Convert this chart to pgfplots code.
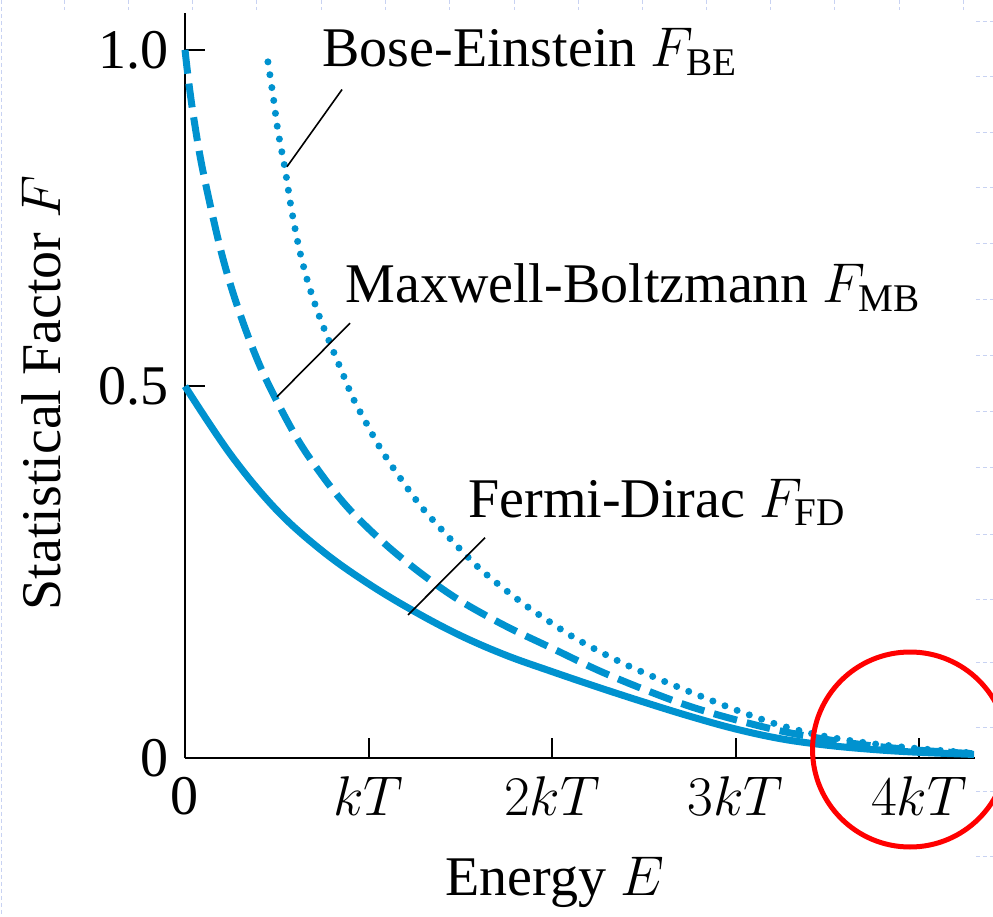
\RequirePackage{fix-cm}
\documentclass[border=0pt]{standalone}
\usepackage{amsmath}
\usepackage{fontspec}
\setmainfont{Liberation Serif}
\usepackage{pgfplots}
\pgfplotsset{compat=1.18}

\definecolor{sfblue}{RGB}{0,146,207}
\definecolor{faint}{RGB}{200,210,242}
\newcommand{\bigf}{\fontsize{28}{32}\selectfont}

\begin{document}
\begin{tikzpicture}
    \begin{axis}[
        scale only axis,
        width=395pt, height=372.5pt,
        xmin=0, xmax=4.305,
        ymin=0, ymax=1.052,
        axis x line=bottom, axis y line=left,
        axis line style={-, line width=1pt, black},
        tick align=inside,
        major tick length=10pt,
        tick style={black, line width=1pt},
        xtick={0,1,2,3,4},
        xticklabels={0,$kT$,$2kT$,$3kT$,$4kT$},
        ytick={0,0.525,1},
        yticklabels={0,0.5,1.0},
        /pgf/number format/assume math mode=true,
        ticklabel style={font=\bigf},
        xticklabel style={yshift=-6pt},
        yticklabel style={xshift=-4.5pt},
        xlabel={Energy $E$},
        ylabel={Statistical Factor $F$},
        xlabel style={font=\bigf, at={(axis description cs:0.468,-0.184)}, anchor=base},
        ylabel style={font=\bigf, at={(axis description cs:-0.158,0.49)}, anchor=base},
        clip=false,
    ]

    % Fermi-Dirac (solid)
    \addplot[sfblue, line width=3.5pt, smooth, tension=0.6] coordinates {
        (0,0.525) (0.25,0.428) (0.5,0.350) (0.75,0.292) (1.0,0.246)
        (1.25,0.207) (1.5,0.173) (1.75,0.145) (2.0,0.122) (2.25,0.100)
        (2.5,0.079) (2.75,0.059) (3.0,0.041) (3.25,0.027) (3.5,0.018)
        (3.75,0.012) (4.0,0.008) (4.3,0.005)
    };

    % Maxwell-Boltzmann (dashed)
    \addplot[sfblue, line width=3.5pt, smooth, tension=0.55, dash pattern=on 12pt off 5pt] coordinates {
        (0,1.0) (0.02,0.955) (0.05,0.900) (0.1,0.826) (0.2,0.712)
        (0.3,0.627) (0.425,0.544) (0.6,0.456) (0.75,0.398) (0.9,0.350)
        (1.1,0.300) (1.3,0.258) (1.5,0.222) (1.75,0.186) (2.0,0.155)
        (2.25,0.124) (2.5,0.097) (2.75,0.073) (3.0,0.054) (3.25,0.038)
        (3.5,0.026) (3.75,0.017) (4.0,0.011) (4.3,0.006)
    };

    % Bose-Einstein (dotted)
    \addplot[sfblue, line width=3.5pt, smooth, tension=0.55, line cap=round, dash pattern=on 0pt off 6.5pt] coordinates {
        (0.452,0.983) (0.480,0.935) (0.507,0.885) (0.545,0.832) (0.580,0.775)
        (0.620,0.722) (0.665,0.676) (0.719,0.633) (0.774,0.596) (0.856,0.545)
        (0.916,0.508) (0.992,0.471) (1.063,0.438) (1.155,0.402) (1.281,0.357)
        (1.390,0.325) (1.499,0.295) (1.608,0.267) (1.733,0.240) (1.864,0.214)
        (1.989,0.192) (2.114,0.171) (2.262,0.150) (2.409,0.131) (2.550,0.115)
        (2.698,0.099) (2.823,0.086) (2.970,0.071) (3.117,0.057) (3.259,0.045)
        (3.460,0.032) (3.695,0.022) (3.967,0.014) (4.294,0.007)
    };

    % leader lines and labels
    \draw[black, line width=0.8pt] (axis cs:0.856,0.944) -- (axis cs:0.556,0.835);
    \draw[black, line width=0.8pt] (axis cs:0.899,0.614) -- (axis cs:0.501,0.510);
    \draw[black, line width=0.8pt] (axis cs:1.635,0.311) -- (axis cs:1.215,0.202);

    \node[anchor=base west, inner sep=0pt, font=\bigf] at (axis cs:0.747,0.976) {Bose-Einstein $F_{\text{BE}}$};
    \node[anchor=base west, inner sep=0pt, font=\bigf] at (axis cs:0.872,0.643) {Maxwell-Boltzmann $F_{\text{MB}}$};
    \node[anchor=base west, inner sep=0pt, font=\bigf] at (axis cs:1.542,0.340) {Fermi-Dirac $F_{\text{FD}}$};

    % red highlight circle
    \draw[red, line width=2.5pt] (axis cs:3.951,0.012) circle[radius=48.75pt];

    \coordinate (O) at (axis cs:0,0);
    \end{axis}

    % faint slide guide marks around the edges (pixel grid of the page)
    \begin{scope}[shift={(O)}, xshift=-92.5pt, yshift=379pt, x=0.5pt, y=-0.5pt,
                  faint, line width=0.5pt, dash pattern=on 2pt off 1.5pt]
        \foreach \gx in {65,129,193,257,322,386,450,515,579,643,707,771,835,900,964}
            \draw (\gx,0) -- (\gx,10);
        \foreach \gy in {22,77,133,188,244,300,356,412,468,535,600,663,728,792,857}
            \draw (976,\gy) -- (993,\gy);
        \draw (2,0) -- (2,917);
    \end{scope}

    \pgfresetboundingbox
    \path (O) ++(-92.5pt,-79.5pt) rectangle ++(496.5pt,458.5pt);
\end{tikzpicture}
\end{document}
